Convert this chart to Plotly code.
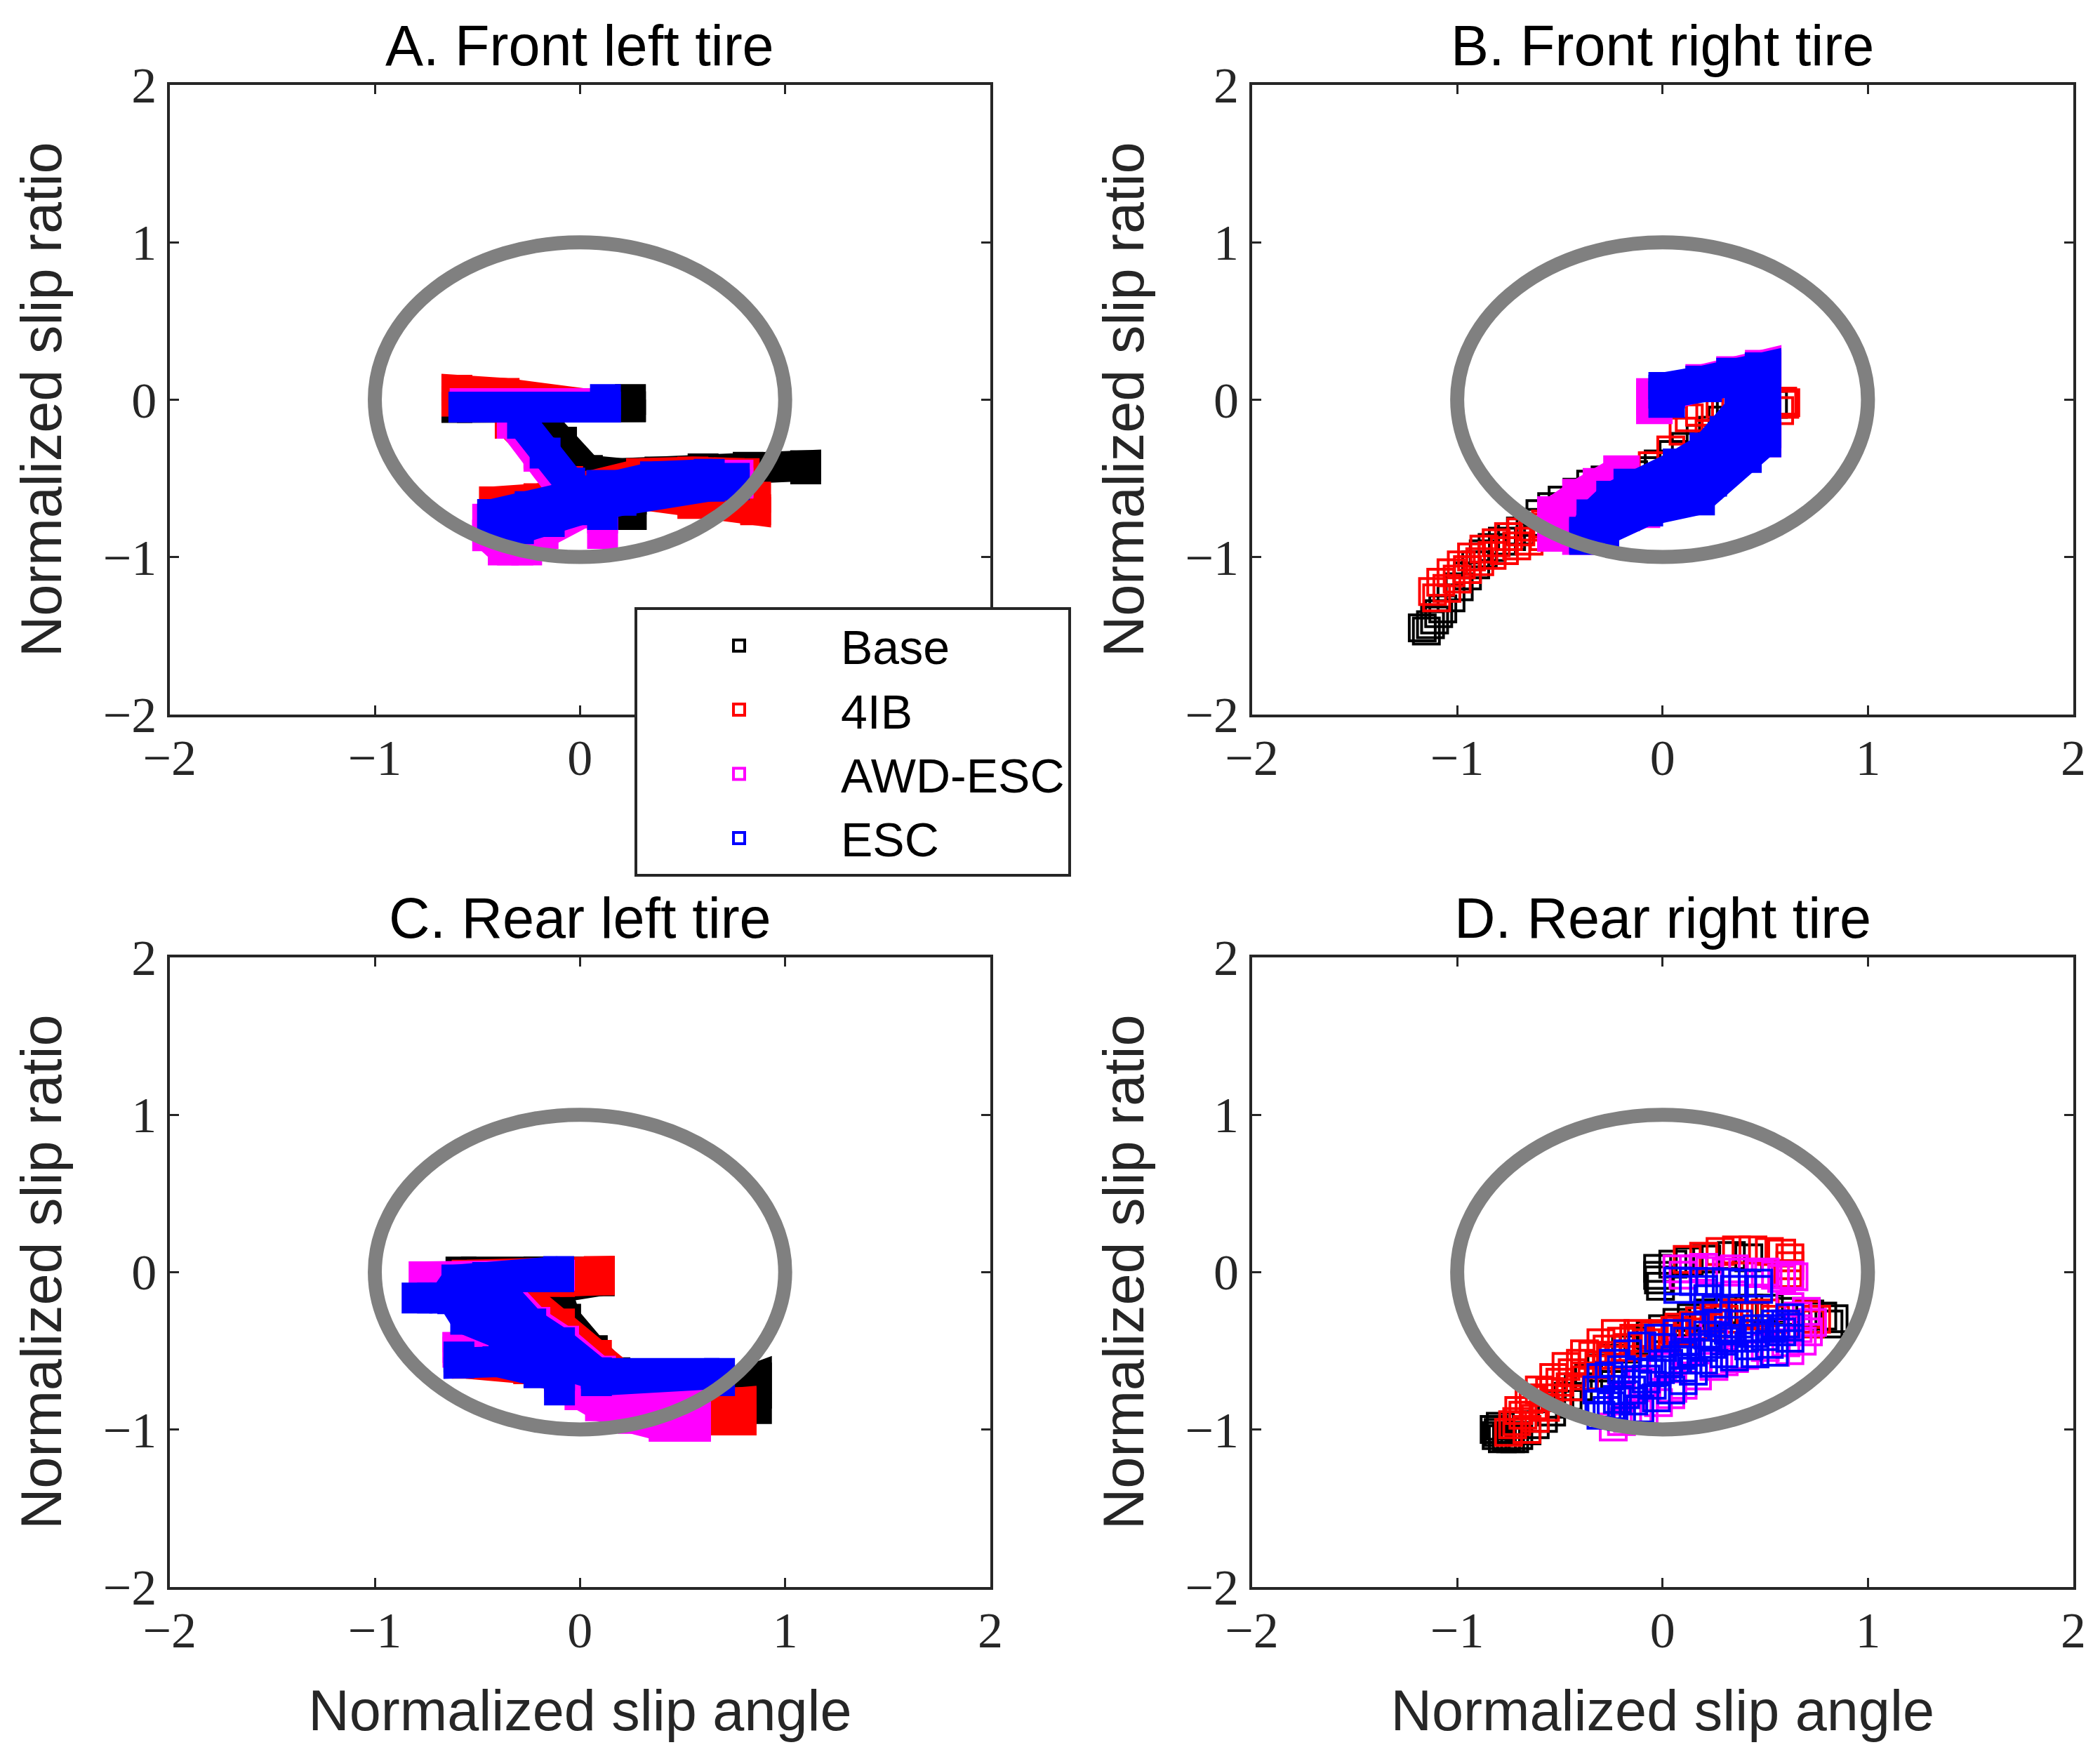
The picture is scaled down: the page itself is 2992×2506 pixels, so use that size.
import plotly.graph_objects as go

# ---------------------------------------------------------------- labels
SERIES = ["Base", "4IB", "AWD-ESC", "ESC"]
SERIES_COLORS = ["#000000", "#ff0000", "#ff00ff", "#0000ff"]
PANELS = ["A", "B", "C", "D"]
PANEL_TITLES = ["A. Front left tire", "B. Front right tire", "C. Rear left tire", "D. Rear right tire"]
TICK_VALUES = [-2, -1, 0, 1, 2]
X_TITLE = "Normalized slip angle"
Y_TITLE = "Normalized slip ratio"
CIRCLE_RADIUS = 1.0

# ---------------------------------------------------------------- panel A: front left tire
A_BASE_X = [-0.60, -0.30, 0.00, 0.246, 0.246, None, -0.21, -0.09, 0.036, 0.20, 0.39, 0.60, 0.82, 1.10, 1.10, None, -0.35, -0.10, 0.10, 0.25, 0.25]
A_BASE_Y = [-0.05, -0.05, -0.045, -0.045, 0.00, None, -0.10, -0.27, -0.45, -0.47, -0.46, -0.44, -0.43, -0.42, -0.44, None, -0.72, -0.64, -0.58, -0.58, -0.73]
A_4IB_X = [-0.60, -0.60, -0.37, -0.15, 0.10, None, -0.34, -0.20, -0.06, None, -0.417, -0.20, 0.05, 0.30, 0.55, 0.80, None, 0.28, 0.55, 0.856, 0.856]
A_4IB_Y = [-0.01, 0.06, 0.04, -0.02, -0.04, None, -0.15, -0.34, -0.52, None, -0.65, -0.63, -0.55, -0.47, -0.46, -0.47, None, -0.60, -0.66, -0.70, -0.62]
A_AWD_X = [-0.56, -0.20, 0.12, None, -0.33, -0.20, -0.08, None, -0.45, -0.45, -0.374, -0.26, -0.18, 0.00, 0.11, 0.11, None, 0.11, 0.30, 0.55, 0.77, 0.77]
A_AWD_Y = [-0.025, -0.025, -0.025, None, -0.15, -0.36, -0.58, None, -0.76, -0.865, -0.955, -0.955, -0.85, -0.72, -0.65, -0.85, None, -0.62, -0.57, -0.55, -0.53, -0.48]
A_ESC_X = [-0.566, -0.20, 0.124, 0.124, None, -0.28, -0.17, -0.05, None, -0.426, -0.243, 0.00, 0.106, 0.368, 0.63, 0.752, 0.752, 0.63, 0.40, 0.20, 0.00, -0.15, -0.30, -0.426, None, 0.11, 0.11]
A_ESC_Y = [-0.047, -0.047, -0.047, 0.00, None, -0.15, -0.34, -0.53, None, -0.73, -0.68, -0.58, -0.545, -0.49, -0.475, -0.50, -0.54, -0.55, -0.58, -0.64, -0.70, -0.775, -0.82, -0.76, None, -0.62, -0.73]

# ---------------------------------------------------------------- panel B: front right tire
B_BASE_X = [-1.17, -1.15, -1.13, -1.11, -1.09, -1.07, -1.03, -0.99, -0.95, -0.91, -0.873, -0.83, -0.78, -0.735, -0.692, -0.645, -0.597, -0.54, -0.489, -0.417, -0.35, -0.28, -0.20, -0.141, -0.081, -0.021, 0.051, 0.111, 0.183, 0.243, 0.29, 0.33, 0.50, 0.54]
B_BASE_Y = [-1.45, -1.47, -1.43, -1.40, -1.36, -1.33, -1.26, -1.19, -1.12, -1.05, -0.98, -0.94, -0.90, -0.87, -0.835, -0.78, -0.724, -0.68, -0.639, -0.588, -0.537, -0.51, -0.49, -0.477, -0.451, -0.409, -0.349, -0.297, -0.246, -0.195, -0.13, -0.06, -0.05, -0.03]
B_4IB_X = [-1.12, -1.10, -1.08, -1.05, -1.03, -1.00, -0.98, -0.95, -0.93, -0.89, -0.87, -0.83, -0.81, -0.77, -0.75, -0.71, -0.69, -0.65, -0.63, -0.58, -0.57, -0.52, -0.51, -0.46, -0.45, -0.40, -0.35, -0.25, -0.15, -0.05, 0.04, 0.10, 0.13, 0.18, 0.23, 0.28, 0.57, 0.585, 0.595, 0.60]
B_4IB_Y = [-1.22, -1.26, -1.16, -1.20, -1.10, -1.14, -1.05, -1.08, -1.00, -1.03, -0.95, -0.99, -0.91, -0.96, -0.87, -0.93, -0.84, -0.90, -0.81, -0.87, -0.79, -0.85, -0.77, -0.83, -0.76, -0.80, -0.72, -0.62, -0.52, -0.42, -0.32, -0.20, -0.115, -0.08, -0.05, -0.03, -0.07, -0.01, -0.03, -0.02]
B_AWD_X = [-0.04, -0.04, 0.20, 0.35, 0.49, 0.49, 0.20, -0.10, -0.40, None, -0.522, -0.522, -0.40, -0.30, -0.20]
B_AWD_Y = [-0.04, 0.02, 0.11, 0.16, 0.20, -0.25, -0.52, -0.70, -0.87, None, -0.85, -0.73, -0.62, -0.55, -0.47]
B_ESC_X = [0.02, 0.02, 0.20, 0.35, 0.489, 0.489, 0.394, 0.225, 0.166, -0.086, -0.30, -0.366, None, 0.45, 0.36, 0.15, -0.05, -0.20, -0.33, None, 0.39, 0.318, 0.22, 0.09, -0.15, -0.234, -0.33, -0.366]
B_ESC_Y = [0.00, 0.06, 0.10, 0.15, 0.184, -0.25, -0.35, -0.50, -0.62, -0.69, -0.836, -0.86, None, -0.10, -0.28, -0.45, -0.60, -0.72, -0.82, None, -0.07, -0.22, -0.325, -0.427, -0.555, -0.632, -0.75, -0.87]

# ---------------------------------------------------------------- panel C: rear left tire
C_BASE_X = [-0.58, -0.20, 0.094, 0.094, -0.12, None, -0.12, -0.07, 0.06, 0.17, 0.40, 0.60, 0.86, 0.86]
C_BASE_Y = [0.00, 0.00, 0.00, -0.056, -0.10, None, -0.10, -0.30, -0.50, -0.64, -0.75, -0.80, -0.674, -0.868]
C_4IB_X = [-0.55, 0.094, 0.094, -0.10, None, -0.30, -0.10, 0.08, 0.19, 0.40, 0.60, 0.785, 0.785, 0.55, None, -0.55, -0.25, 0.00, 0.19]
C_4IB_Y = [-0.02, 0.003, -0.05, -0.06, None, -0.12, -0.33, -0.53, -0.65, -0.78, -0.85, -0.83, -0.94, -0.94, None, -0.58, -0.615, -0.70, -0.70]
C_AWD_X = [-0.76, -0.45, -0.10, None, -0.595, -0.595, -0.40, -0.25, None, -0.38, -0.22, -0.08, 0.10, 0.20, None, -0.10, 0.00, 0.10, 0.26, 0.41, 0.563, 0.563, 0.35, 0.10]
C_AWD_Y = [-0.03, -0.03, -0.02, None, -0.51, -0.48, -0.48, -0.50, None, -0.10, -0.32, -0.44, -0.63, -0.75, None, -0.70, -0.78, -0.85, -0.93, -0.98, -0.98, -0.84, -0.84, -0.80]
C_ESC_X = [-0.794, -0.66, -0.60, -0.45, -0.25, -0.104, -0.104, None, -0.40, -0.24, -0.10, 0.08, None, -0.55, -0.40, -0.25, -0.05, 0.10, None, -0.62, -0.557, -0.37, -0.25, None, -0.59, -0.59, -0.40, -0.20, -0.10, -0.10, None, 0.08, 0.68, 0.68, 0.08]
C_ESC_Y = [-0.165, -0.165, -0.05, -0.035, -0.03, -0.03, 0.003, None, -0.10, -0.33, -0.45, -0.64, None, -0.12, -0.30, -0.45, -0.60, -0.66, None, -0.17, -0.30, -0.40, -0.52, None, -0.54, -0.578, -0.57, -0.64, -0.66, -0.75, None, -0.645, -0.645, -0.69, -0.69]

# ---------------------------------------------------------------- panel D: rear right tire
D_BASE_X = [-0.82, -0.81, -0.80, -0.79, -0.78, -0.76, -0.74, -0.72, -0.70, -0.66, -0.62, -0.58, -0.54, -0.50, -0.46, -0.41, -0.36, -0.30, -0.24, -0.18, -0.12, -0.06, 0.00, 0.07, 0.14, 0.22, 0.32, 0.42, 0.52, 0.62, 0.717, 0.78, 0.835, 0.81, -0.024, -0.024, -0.02, -0.01, 0.05, 0.13, 0.215, 0.335, 0.42]
D_BASE_Y = [-1.00, -1.04, -1.02, -0.98, -1.06, -1.05, -1.06, -1.06, -1.04, -1.01, -0.97, -0.93, -0.89, -0.84, -0.79, -0.73, -0.67, -0.61, -0.55, -0.49, -0.44, -0.40, -0.36, -0.32, -0.29, -0.26, -0.24, -0.23, -0.23, -0.25, -0.267, -0.28, -0.297, -0.33, 0.023, -0.021, -0.05, -0.09, 0.05, 0.07, 0.083, 0.105, 0.09]
D_4IB_X = [-0.73, -0.70, -0.65, -0.60, -0.53, -0.47, -0.38, -0.30, -0.23, -0.12, 0.00, 0.08, 0.18, 0.25,
           -0.66, -0.62, -0.57, -0.51, -0.45, -0.38, -0.31, -0.24, -0.17, -0.08, 0.02, 0.12, 0.22, 0.32,
           -0.75, -0.71, -0.68, -0.63, -0.58, -0.55, -0.50, -0.44, -0.40, -0.34, -0.27, -0.20, -0.14, -0.04, 0.06, 0.15,
           0.30, 0.35, 0.40, 0.45, 0.50, 0.55, 0.62, 0.70, 0.75, 0.72,
           0.12, 0.20, 0.28, 0.36, 0.44, 0.52, 0.58, 0.62, 0.62, 0.61]
D_4IB_Y = [-0.97, -0.88, -0.81, -0.75, -0.67, -0.60, -0.52, -0.45, -0.39, -0.39, -0.39, -0.35, -0.31, -0.29,
           -1.00, -0.93, -0.86, -0.80, -0.73, -0.66, -0.59, -0.53, -0.48, -0.45, -0.42, -0.38, -0.35, -0.33,
           -1.02, -0.95, -0.91, -0.85, -0.80, -0.76, -0.70, -0.64, -0.58, -0.53, -0.49, -0.44, -0.42, -0.40, -0.37, -0.34,
           -0.30, -0.26, -0.27, -0.28, -0.26, -0.30, -0.33, -0.27, -0.30, -0.33,
           0.08, 0.10, 0.13, 0.14, 0.14, 0.13, 0.12, 0.09, 0.04, -0.01]
D_AWD_X = [0.07, 0.15, 0.20, 0.23, 0.31, 0.35, 0.39, 0.47, 0.50, 0.55, 0.58, 0.62, 0.64, 0.10,
           0.62, 0.66, 0.70, 0.73, 0.66, 0.71, 0.68, 0.60, 0.62, 0.55, 0.50,
           -0.24, -0.20, -0.17, -0.12, -0.09, -0.02, 0.04, 0.05, 0.10, 0.17, 0.25, 0.30, 0.35, 0.40, 0.45,
           -0.20, -0.10, 0.00, 0.10, 0.25]
D_AWD_Y = [0.02, 0.02, 0.03, 0.01, 0.00, 0.02, 0.00, -0.01, 0.00, -0.02, -0.04, -0.02, -0.03, -0.02,
           -0.22, -0.28, -0.25, -0.32, -0.36, -0.38, -0.44, -0.45, -0.50, -0.51, -0.48,
           -0.985, -0.95, -0.93, -0.90, -0.88, -0.83, -0.78, -0.74, -0.72, -0.66, -0.60, -0.57, -0.55, -0.53, -0.52,
           -0.80, -0.70, -0.60, -0.50, -0.40]
D_ESC_X = [0.074, 0.15, 0.23, 0.31, 0.39, 0.468, 0.468, 0.35, 0.20, 0.074, 0.22, 0.26,
           -0.30, -0.31, -0.32, -0.30, -0.24, -0.17, -0.10, -0.02, 0.07, 0.16, 0.27, 0.37, 0.46, 0.55, 0.62,
           -0.25, -0.18, -0.12, -0.05, 0.03, 0.10, 0.20, 0.30, 0.40, 0.50, 0.58,
           -0.20, -0.11, -0.03, 0.04, 0.10, 0.15, 0.25, 0.35, 0.45, 0.544, 0.62, 0.62,
           -0.27, -0.22, -0.15, -0.08, -0.01, 0.06, 0.14, 0.24, 0.34, 0.44, 0.53, 0.60,
           -0.26, -0.20, 0.00, 0.12, 0.22, 0.32, 0.42, 0.52, 0.30, 0.20, 0.10, -0.05, -0.14]
D_ESC_Y = [-0.057, -0.06, -0.06, -0.065, -0.07, -0.07, -0.11, -0.11, -0.11, -0.11, -0.17, -0.24,
           -0.91, -0.84, -0.75, -0.67, -0.58, -0.52, -0.47, -0.42, -0.39, -0.35, -0.325, -0.33, -0.36, -0.33, -0.29,
           -0.85, -0.78, -0.71, -0.64, -0.58, -0.53, -0.48, -0.44, -0.42, -0.41, -0.38,
           -0.92, -0.87, -0.80, -0.75, -0.69, -0.63, -0.58, -0.54, -0.52, -0.51, -0.42, -0.35,
           -0.88, -0.81, -0.75, -0.68, -0.62, -0.56, -0.51, -0.46, -0.42, -0.39, -0.36, -0.33,
           -0.66, -0.62, -0.48, -0.44, -0.40, -0.37, -0.47, -0.46, -0.52, -0.56, -0.61, -0.72, -0.82]

PANEL_DATA = {
    "A": [(A_BASE_X, A_BASE_Y), (A_4IB_X, A_4IB_Y), (A_AWD_X, A_AWD_Y), (A_ESC_X, A_ESC_Y)],
    "B": [(B_BASE_X, B_BASE_Y), (B_4IB_X, B_4IB_Y), (B_AWD_X, B_AWD_Y), (B_ESC_X, B_ESC_Y)],
    "C": [(C_BASE_X, C_BASE_Y), (C_4IB_X, C_4IB_Y), (C_AWD_X, C_AWD_Y), (C_ESC_X, C_ESC_Y)],
    "D": [(D_BASE_X, D_BASE_Y), (D_4IB_X, D_4IB_Y), (D_AWD_X, D_AWD_Y), (D_ESC_X, D_ESC_Y)],
}

# ---------------------------------------------------------------- styling / layout (not data)
# "dense": samples so close that the hollow squares merge into a solid ribbon
# "open": separate hollow squares
RENDER = {
    "A": ["dense", "dense", "dense", "dense"],
    "B": ["open", "open", "dense", "dense"],
    "C": ["dense", "dense", "dense", "dense"],
    "D": ["open", "open", "open", "open"],
}
RIBBON_WIDTH = {"A": 44, "B": 52, "C": 44, "D": 44}

PAGE_W, PAGE_H = 2992, 2506
PAGE_MARGIN = 8                      # default <body> margin of the html page
W, H = PAGE_W - 2 * PAGE_MARGIN, PAGE_H - 2 * PAGE_MARGIN


def fx(px):
    return (px - PAGE_MARGIN) / W


def fy(py):
    return 1 - (py - PAGE_MARGIN) / H


AXIS_COLOR = "#262626"
SANS = "Liberation Sans, Arial, Helvetica, sans-serif"
SERIF = "Liberation Serif, Times New Roman, serif"
LEFT_COL, RIGHT_COL = (241.7, 1411.0), (1783.5, 2954.0)
TOP_ROW, BOTTOM_ROW = (121.0, 1017.7), (1364.0, 2260.5)
DOMAIN_X = {"A": LEFT_COL, "B": RIGHT_COL, "C": LEFT_COL, "D": RIGHT_COL}
DOMAIN_Y = {"A": TOP_ROW, "B": TOP_ROW, "C": BOTTOM_ROW, "D": BOTTOM_ROW}
AXIS_IDS = {"A": ("x", "y"), "B": ("x2", "y2"), "C": ("x3", "y3"), "D": ("x4", "y4")}

fig = go.Figure()

for p in PANELS:
    xa, ya = AXIS_IDS[p]
    for (xs, ys), name, color, mode in zip(PANEL_DATA[p], SERIES, SERIES_COLORS, RENDER[p]):
        if mode == "dense":
            fig.add_trace(go.Scatter(
                x=xs, y=ys, xaxis=xa, yaxis=ya, name=name, showlegend=False,
                mode="lines+markers", connectgaps=False,
                line=dict(color=color, width=RIBBON_WIDTH[p]),
                marker=dict(symbol="square", size=RIBBON_WIDTH[p], color=color, line=dict(width=0)),
                hoverinfo="skip"))
        else:
            fig.add_trace(go.Scatter(
                x=xs, y=ys, xaxis=xa, yaxis=ya, name=name, showlegend=False,
                mode="markers",
                marker=dict(symbol="square-open", size=37, color=color, line=dict(width=4, color=color)),
                hoverinfo="skip"))

# legend entries (hollow squares like the original legend)
for name, color in zip(SERIES, SERIES_COLORS):
    fig.add_trace(go.Scatter(
        x=[None], y=[None], xaxis="x", yaxis="y", name=name, mode="markers",
        marker=dict(symbol="square-open", size=37, color=color, line=dict(width=4, color=color)),
        showlegend=True))

layout = dict(
    width=W, height=H,
    margin=dict(l=0, r=0, t=0, b=0, autoexpand=False),
    paper_bgcolor="white", plot_bgcolor="white",
    font=dict(family=SANS, color="black"),
    showlegend=True,
    legend=dict(x=fx(904), y=fy(865), xanchor="left", yanchor="top",
                bgcolor="white", bordercolor=AXIS_COLOR, borderwidth=4,
                font=dict(family=SANS, size=68, color="black"),
                itemwidth=280, tracegroupgap=0, traceorder="normal"),
    shapes=[], annotations=[],
)

for i, p in enumerate(PANELS):
    xa, ya = AXIS_IDS[p]
    xkey = "xaxis" + xa[1:]
    ykey = "yaxis" + ya[1:]
    common = dict(
        range=[-2, 2], tickmode="array", tickvals=TICK_VALUES,
        ticks="inside", ticklen=13, tickwidth=3, tickcolor=AXIS_COLOR,
        showline=True, linewidth=4, linecolor=AXIS_COLOR, mirror="ticks",
        showgrid=False, zeroline=False, automargin=False,
        tickfont=dict(family=SERIF, size=72, color=AXIS_COLOR),
    )
    x0, x1 = DOMAIN_X[p]
    ytop, ybot = DOMAIN_Y[p]
    xcfg = dict(common, domain=[fx(x0), fx(x1)], anchor=ya, ticklabelstandoff=-4)
    ycfg = dict(common, domain=[fy(ybot), fy(ytop)], anchor=xa)
    if p in ("C", "D"):
        xcfg["title"] = dict(text=X_TITLE, font=dict(family=SANS, size=81, color=AXIS_COLOR), standoff=47)
    ycfg["title"] = dict(text=Y_TITLE, font=dict(family=SANS, size=81, color=AXIS_COLOR), standoff=33)
    layout[xkey] = xcfg
    layout[ykey] = ycfg

    layout["shapes"].append(dict(
        type="circle", xref=xa, yref=ya, layer="above",
        x0=-CIRCLE_RADIUS, x1=CIRCLE_RADIUS, y0=-CIRCLE_RADIUS, y1=CIRCLE_RADIUS,
        line=dict(color="#808080", width=20)))

    layout["annotations"].append(dict(
        text=PANEL_TITLES[i], xref="paper", yref="paper",
        x=(fx(x0) + fx(x1)) / 2, y=fy(ytop),
        xanchor="center", yanchor="bottom", yshift=9, showarrow=False,
        font=dict(family=SANS, size=81, color="black")))

fig.update_layout(**layout)
fig.write_html("out.html")
